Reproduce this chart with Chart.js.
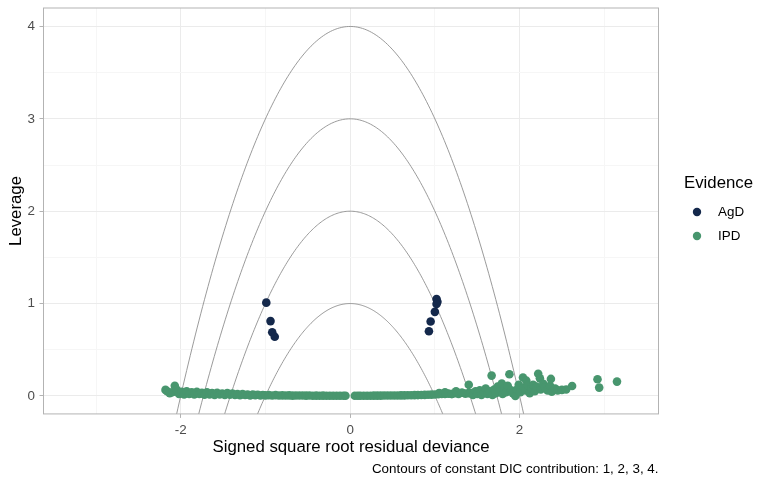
<!DOCTYPE html>
<html>
<head>
<meta charset="utf-8">
<title>Leverage vs residual deviance</title>
<script src="https://cdn.jsdelivr.net/npm/chart.js@4/dist/chart.umd.min.js"></script>
<style>
  html, body { margin: 0; padding: 0; background: #ffffff; }
  canvas { display: block; }
</style>
</head>
<body>
<canvas id="dic-chart" width="770" height="484"></canvas>
<script>
// AgD studies (aggregate data)
const agdX = [-0.99, -0.94, -0.92, -0.89, 1.02, 1.03, 1.02, 1.00, 0.95, 0.93];
const agdY = [1.01, 0.81, 0.69, 0.64, 1.05, 1.02, 0.995, 0.91, 0.805, 0.70];

// IPD individuals (a hand-read sample of the dense band near leverage 0)
const ipdX = [
  -2.18, -2.16, -2.13, -2.10, -2.07, -2.05, -2.02, -1.99, -1.96, -1.93,
  -1.90, -1.87, -1.84, -1.81, -1.78, -1.75, -1.72, -1.69, -1.66, -1.63,
  -1.60, -1.57, -1.54, -1.51, -1.48, -1.45, -1.42, -1.39, -1.36, -1.33,
  -1.30, -1.27, -1.24, -1.21, -1.18, -1.15, -1.12, -1.09, -1.06, -1.03,
  -1.00, -0.96, -0.92, -0.88, -0.84, -0.80, -0.76, -0.72, -0.68, -0.64,
  -0.60, -0.56, -0.52, -0.48, -0.44, -0.40, -0.36, -0.32, -0.28, -0.24,
  -0.20, -0.16, -0.12, -0.08, -0.055,
  0.055, 0.09, 0.12, 0.16, 0.20, 0.24, 0.28, 0.32, 0.36, 0.40, 0.44,
  0.48, 0.52, 0.56, 0.60, 0.64, 0.68, 0.72, 0.76, 0.80, 0.84,
  0.88, 0.92, 0.96, 1.00, 1.04, 1.08, 1.12, 1.16, 1.20, 1.24,
  1.28, 1.32, 1.36, 1.40,
  1.05, 1.12, 1.20, 1.25, 1.32, 1.40, 1.42, 1.45, 1.48, 1.50,
  1.53, 1.55, 1.58, 1.60, 1.62, 1.65, 1.67, 1.68, 1.70, 1.72,
  1.74, 1.76, 1.79, 1.80, 1.82, 1.84, 1.86, 1.88, 1.90, 1.92,
  1.95, 1.97, 1.99, 2.01, 2.04, 2.05, 2.07, 2.08, 2.10, 2.12,
  2.14, 2.16, 2.18, 2.20, 2.22, 2.24, 2.25, 2.28, 2.30, 2.33,
  2.36, 2.37, 2.38, 2.42, 2.45, 2.50, 2.55, 2.62, 2.92, 2.94,
  3.15
];
const ipdY = [
  0.065, 0.05, 0.03, 0.04, 0.11, 0.07, 0.02, 0.045, 0.015, 0.05,
  0.02, 0.04, 0.015, 0.045, 0.02, 0.035, 0.012, 0.04, 0.015, 0.03,
  0.01, 0.035, 0.015, 0.025, 0.01, 0.03, 0.012, 0.025, 0.01, 0.02,
  0.008, 0.02, 0.01, 0.015, 0.006, 0.015, 0.008, 0.012, 0.005, 0.01,
  0.006, 0.008, 0.004, 0.008, 0.005, 0.006, 0.004, 0.006, 0.003, 0.005,
  0.004, 0.004, 0.003, 0.004, 0.002, 0.003, 0.002, 0.003, 0.002, 0.002,
  0.002, 0.001, 0.001, 0.001, 0.001,
  0.001, 0.001, 0.001, 0.002, 0.002, 0.002, 0.003, 0.003, 0.003, 0.004, 0.004,
  0.004, 0.005, 0.005, 0.006, 0.006, 0.007, 0.007, 0.008, 0.009, 0.010,
  0.011, 0.012, 0.014, 0.016, 0.018, 0.02, 0.022, 0.025, 0.02, 0.03,
  0.02, 0.035, 0.025, 0.03,
  0.03, 0.04, 0.02, 0.05, 0.035, 0.12, 0.03, 0.01, 0.05, 0.02,
  0.06, 0.01, 0.04, 0.08, 0.02, 0.05, 0.22, 0.01, 0.07, 0.03,
  0.10, 0.05, 0.135, 0.02, 0.08, 0.04, 0.11, 0.235, 0.06, 0.03,
  0.0, 0.07, 0.12, 0.04, 0.20, 0.09, 0.06, 0.165, 0.11, 0.03,
  0.08, 0.12, 0.05, 0.10, 0.24, 0.19, 0.07, 0.13, 0.09, 0.06,
  0.11, 0.184, 0.045, 0.08, 0.06, 0.065, 0.07, 0.108, 0.18, 0.09,
  0.155
];

// contours of constant DIC contribution (leverage + resdev = level)
const contourLevels = [1, 2, 3, 4];

const xTicks = [-3, -2, -1, 0, 1, 2, 3];
const yTicks = [0, 0.5, 1, 1.5, 2, 2.5, 3, 3.5, 4];

const AGD_COLOR = "#14284b";
const IPD_COLOR = "#48966e";
const FONT = "'Liberation Sans', Arial, Helvetica, sans-serif";
const TITLE_SIZE = 16.8;
const TEXT_SIZE = 13.4;

function toPoints(xs, ys) {
  return xs.map((x, i) => ({ x, y: ys[i] }));
}

function contourPoints(level) {
  const pts = [];
  const xm = Math.sqrt(level + 0.4);
  const n = 200;
  for (let i = 0; i <= n; i++) {
    const x = -xm + (2 * xm * i) / n;
    pts.push({ x, y: level - x * x });
  }
  return pts;
}

const isInt = (v) => Math.abs(v - Math.round(v)) < 1e-9;

// panel border drawn around the plotting area like ggplot's theme_light
const panelBorder = {
  id: "panelBorder",
  afterDraw(chart) {
    const { ctx, chartArea: a } = chart;
    ctx.save();
    ctx.strokeStyle = "#b3b3b3";
    ctx.lineWidth = 1;
    ctx.strokeRect(a.left, a.top, a.right - a.left, a.bottom - a.top);
    ctx.restore();
  },
};

// legend on the right, ggplot style
const sideLegend = {
  id: "sideLegend",
  afterDraw(chart) {
    const ctx = chart.ctx;
    ctx.save();
    ctx.textBaseline = "middle";
    ctx.textAlign = "left";
    ctx.fillStyle = "#000000";
    ctx.font = TITLE_SIZE + "px " + FONT;
    ctx.fillText("Evidence", 684, 183);
    ctx.font = TEXT_SIZE + "px " + FONT;
    chart.data.datasets
      .filter((ds) => !ds.isContour)
      .forEach((ds, i) => {
        const y = 212 + i * 24;
        ctx.fillStyle = ds.backgroundColor;
        ctx.beginPath();
        ctx.arc(697, y, 4.2, 0, Math.PI * 2);
        ctx.fill();
        ctx.fillStyle = "#000000";
        ctx.fillText(ds.label, 718, y);
      });
    ctx.restore();
  },
};

const datasets = [
  {
    label: "AgD",
    data: toPoints(agdX, agdY),
    backgroundColor: AGD_COLOR,
    borderWidth: 0,
    pointRadius: 4.3,
  },
  {
    label: "IPD",
    data: toPoints(ipdX, ipdY),
    backgroundColor: IPD_COLOR,
    borderWidth: 0,
    pointRadius: 4.3,
  },
];
contourLevels.forEach((c) => {
  datasets.push({
    label: "DIC " + c,
    isContour: true,
    data: contourPoints(c),
    showLine: true,
    pointRadius: 0,
    borderColor: "#8f8f8f",
    borderWidth: 0.9,
    fill: false,
  });
});

new Chart(document.getElementById("dic-chart"), {
  type: "scatter",
  data: { datasets },
  plugins: [panelBorder, sideLegend],
  options: {
    responsive: false,
    animation: false,
    events: [],
    layout: { padding: { left: 6.6, top: 8, right: 111.5, bottom: 7 } },
    plugins: {
      legend: { display: false },
      tooltip: { enabled: false },
      subtitle: {
        display: true,
        position: "bottom",
        align: "end",
        fullSize: false,
        text: "Contours of constant DIC contribution: 1, 2, 3, 4.",
        color: "#000000",
        font: { family: FONT, size: TEXT_SIZE, weight: "normal" },
        padding: { top: 0, bottom: 0 },
      },
    },
    scales: {
      x: {
        type: "linear",
        min: -3.62,
        max: 3.64,
        afterBuildTicks: (axis) => {
          axis.ticks = xTicks.map((v) => ({ value: v }));
        },
        afterFit: (scale) => {
          scale.height = 47;
        },
        ticks: {
          color: "#4d4d4d",
          font: { family: FONT, size: TEXT_SIZE },
          padding: 4,
          maxRotation: 0,
          callback: (v) => (isInt(v / 2) ? String(v) : ""),
        },
        grid: {
          color: (ctx) => (isInt(ctx.tick.value / 2) ? "#ebebeb" : "#f6f6f6"),
          tickColor: (ctx) => (isInt(ctx.tick.value / 2) ? "#b3b3b3" : "rgba(0,0,0,0)"),
          tickLength: 4,
          lineWidth: 1,
        },
        border: { display: false },
        title: {
          display: true,
          text: "Signed square root residual deviance",
          color: "#000000",
          font: { family: FONT, size: TITLE_SIZE },
          padding: { top: 0, bottom: 3 },
        },
      },
      y: {
        type: "linear",
        min: -0.195,
        max: 4.2,
        afterBuildTicks: (axis) => {
          axis.ticks = yTicks.map((v) => ({ value: v }));
        },
        afterFit: (scale) => {
          scale.width = 36.9;
          scale.paddingTop = 0;
          scale.paddingBottom = 0;
        },
        ticks: {
          color: "#4d4d4d",
          font: { family: FONT, size: TEXT_SIZE },
          padding: 4.5,
          callback: (v) => (isInt(v) ? String(v) : ""),
        },
        grid: {
          color: (ctx) => (isInt(ctx.tick.value) ? "#ebebeb" : "#f6f6f6"),
          tickColor: (ctx) => (isInt(ctx.tick.value) ? "#b3b3b3" : "rgba(0,0,0,0)"),
          tickLength: 4,
          lineWidth: 1,
        },
        border: { display: false },
        title: {
          display: true,
          text: "Leverage",
          color: "#000000",
          font: { family: FONT, size: TITLE_SIZE },
          padding: { top: 0, bottom: 0 },
        },
      },
    },
  },
});
</script>
</body>
</html>
